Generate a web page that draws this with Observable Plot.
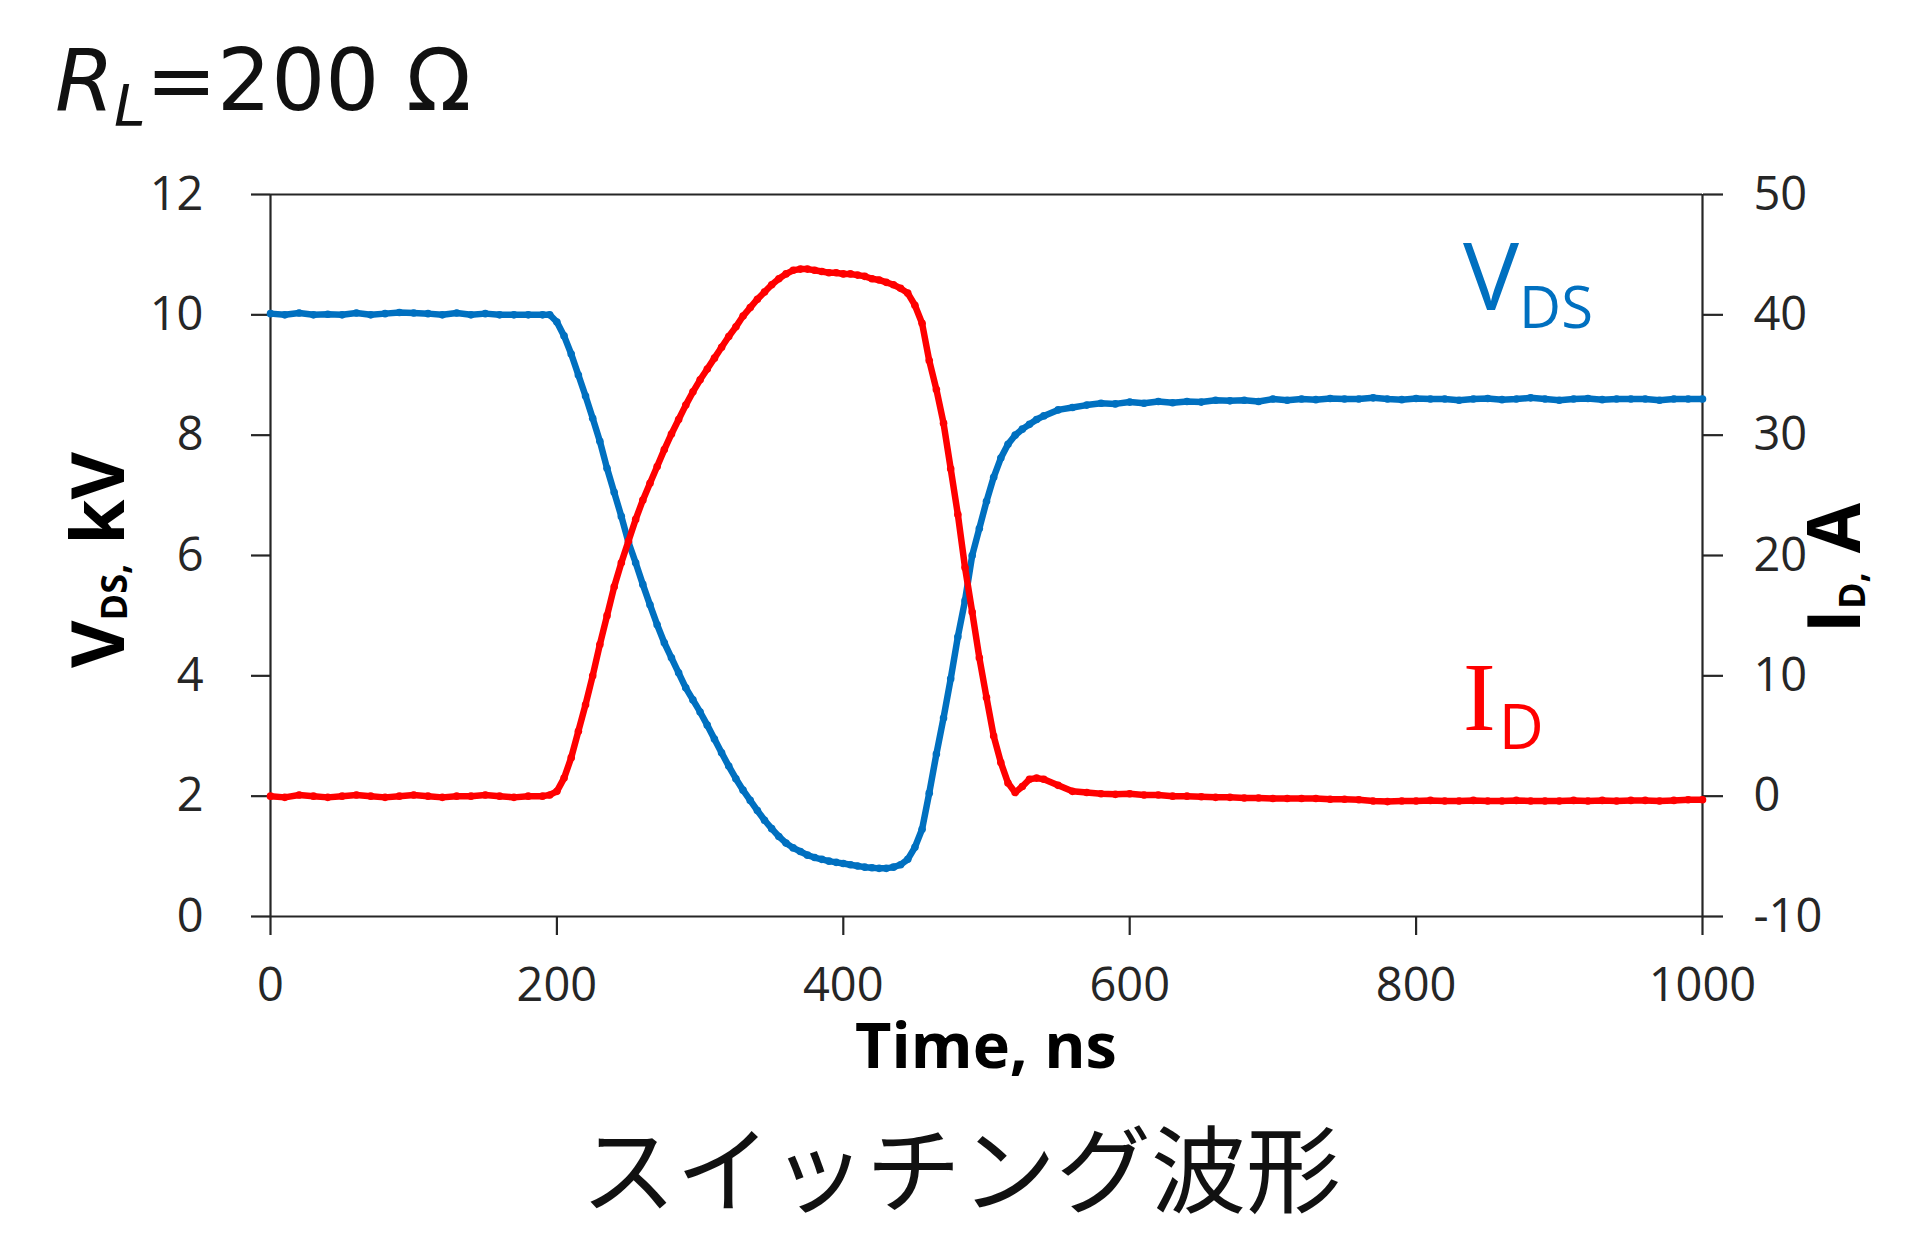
<!DOCTYPE html>
<html>
<head>
<meta charset="utf-8">
<script src="https://cdn.jsdelivr.net/npm/d3@7"></script>
<script src="https://cdn.jsdelivr.net/npm/@observablehq/plot@0.6"></script>
<style>
  html, body { margin: 0; padding: 0; background: #fff; }
  #chart { width: 1920px; height: 1234px; }
</style>
</head>
<body>
<div id="chart"></div>
<script>
// ---- Data ----
const time = [
  0,10,20,30,40,50,60,70,80,90,100,110,120,130,140,150,160,170,180,190,
  195,200,205,210,215,220,225,230,235,240,245,250,255,260,265,270,275,280,285,290,
  295,300,305,310,315,320,325,330,335,340,345,350,355,360,365,370,375,380,385,390,
  395,400,405,410,415,420,425,430,435,440,445,450,455,460,465,470,475,480,485,490,
  495,500,505,510,515,520,525,530,535,540,
  550,560,570,580,590,600,610,620,630,640,650,660,670,680,690,700,710,720,730,740,
  750,760,770,780,790,800,810,820,830,840,850,860,870,880,890,900,910,920,930,940,
  950,960,970,980,990,1000
];
// V_DS in kV (left axis)
const vds = [
  10.02,10.0,10.03,10.0,10.01,10.0,10.03,10.0,10.02,10.04,10.03,10.02,10.0,10.03,10.0,10.02,10.0,10.0,10.0,10.0,
  10.0,9.88,9.65,9.35,9.0,8.65,8.28,7.9,7.45,7.05,6.65,6.22,5.88,5.52,5.18,4.85,4.55,4.3,4.05,3.8,
  3.6,3.4,3.18,2.95,2.72,2.5,2.29,2.1,1.93,1.76,1.6,1.46,1.33,1.22,1.14,1.08,1.02,0.98,0.95,0.92,
  0.9,0.88,0.86,0.84,0.82,0.81,0.8,0.8,0.82,0.86,0.95,1.15,1.45,2.05,2.7,3.3,3.95,4.65,5.25,6.0,
  6.45,6.9,7.3,7.62,7.85,8.0,8.1,8.18,8.26,8.32,
  8.42,8.46,8.5,8.53,8.52,8.55,8.53,8.56,8.54,8.56,8.55,8.58,8.57,8.58,8.56,8.6,8.58,8.6,8.59,8.61,
  8.6,8.6,8.62,8.6,8.59,8.61,8.6,8.6,8.58,8.6,8.61,8.59,8.6,8.62,8.6,8.58,8.6,8.61,8.59,8.6,
  8.6,8.6,8.58,8.6,8.6,8.6
];
// I_D in A (right axis)
const idA = [
  0.0,-0.1,0.1,0.0,-0.1,0.0,0.1,0.0,-0.1,0.0,0.1,0.0,-0.1,0.0,0.0,0.1,0.0,-0.1,0.0,0.0,
  0.1,0.4,1.5,3.2,5.4,7.6,10.0,12.6,15.0,17.4,19.4,21.2,23.0,24.6,26.0,27.4,28.8,30.1,31.3,32.5,
  33.6,34.6,35.5,36.4,37.3,38.2,39.0,39.9,40.6,41.3,41.9,42.5,43.0,43.4,43.7,43.8,43.8,43.7,43.6,43.5,
  43.5,43.4,43.4,43.3,43.2,43.0,42.9,42.7,42.5,42.2,41.8,40.8,39.3,36.2,33.8,31.0,27.2,23.4,19.0,15.3,
  11.5,8.2,5.0,2.8,1.1,0.3,0.8,1.4,1.5,1.4,
  0.9,0.4,0.3,0.2,0.15,0.2,0.1,0.1,0.0,0.0,-0.05,-0.1,-0.1,-0.15,-0.15,-0.2,-0.2,-0.2,-0.2,-0.25,
  -0.25,-0.3,-0.4,-0.45,-0.4,-0.4,-0.35,-0.4,-0.4,-0.35,-0.4,-0.4,-0.35,-0.4,-0.4,-0.4,-0.35,-0.4,-0.35,-0.4,
  -0.35,-0.35,-0.4,-0.35,-0.3,-0.3
];
const xTicks = [0, 200, 400, 600, 800, 1000];
const vTicks = [0, 2, 4, 6, 8, 10, 12];
const iTicks = [-10, 0, 10, 20, 30, 40, 50];

// right axis relation (I axis -10..50 maps onto V axis 0..12)
const vDom = [0, 12], iDom = [-10, 50];
const toV = i => vDom[0] + (i - iDom[0]) * (vDom[1] - vDom[0]) / (iDom[1] - iDom[0]);
const toI = v => iDom[0] + (v - vDom[0]) * (iDom[1] - iDom[0]) / (vDom[1] - vDom[0]);

const rows = time.map((t, k) => ({t, v: vds[k], iv: toV(idA[k])}));

const BLUE = "#0070C0", RED = "#FF0000", INK = "#262626";

const plot = Plot.plot({
  width: 1920,
  height: 1234,
  marginLeft: 270,
  marginRight: 218,
  marginTop: 194,
  marginBottom: 318,
  style: {fontFamily: "'Open Sans', sans-serif", fontSize: "47px", color: INK, background: "#fff", overflow: "visible"},
  x: {domain: [0, 1000]},
  y: {domain: vDom},
  marks: [
    Plot.ruleY(vDom, {stroke: INK, strokeWidth: 2.2}),
    Plot.ruleX([0, 1000], {stroke: INK, strokeWidth: 2.2}),
    Plot.axisY(vTicks, {anchor: "left", tickSize: 19, tickPadding: 48, strokeWidth: 2.2, label: null, tickFormat: d => String(d)}),
    Plot.axisY(iTicks.map(toV), {anchor: "right", tickSize: 20, tickPadding: 31, strokeWidth: 2.2, label: null, tickFormat: d => String(Math.round(toI(d)))}),
    Plot.axisX(xTicks, {anchor: "bottom", tickSize: 19, tickPadding: 32, strokeWidth: 2.2, label: null, tickFormat: d => String(d)}),
    Plot.line(rows, {x: "t", y: "v", stroke: BLUE, strokeWidth: 6.5, strokeLinejoin: "round"}),
    Plot.dot(rows, {x: "t", y: "v", r: 3.8, fill: BLUE}),
    Plot.line(rows, {x: "t", y: "iv", stroke: RED, strokeWidth: 6.5, strokeLinejoin: "round"}),
    Plot.dot(rows, {x: "t", y: "iv", r: 3.8, fill: RED})
  ]
});

document.getElementById("chart").appendChild(plot);

// ---- Text annotations ----
const svg = d3.select(plot);
const g = svg.append("g").attr("text-anchor", "start");

// Title R_L=200 Ω
const title = g.append("text").attr("x", 55).attr("y", 110).attr("text-anchor", "start")
  .attr("font-family", "'DejaVu Sans', sans-serif").attr("font-size", 85).attr("fill", "#111");
title.append("tspan").attr("font-style", "italic").text("R");
title.append("tspan").attr("font-style", "italic").attr("font-size", 57).attr("dy", 16).text("L");
title.append("tspan").attr("dy", -16).text("=200 Ω");

// Left axis label V_DS, kV
const yl = g.append("text").attr("transform", "translate(124,560) rotate(-90)")
  .attr("text-anchor", "middle").attr("font-family", "'Open Sans', sans-serif")
  .attr("font-weight", 700).attr("font-size", 73).attr("fill", "#000");
yl.append("tspan").text("V");
yl.append("tspan").attr("font-size", 36).attr("dy", 3).text("DS,");
yl.append("tspan").attr("dy", -3).text(" kV");

// Right axis label I_D, A
const yr = g.append("text").attr("transform", "translate(1860,568) rotate(-90)")
  .attr("text-anchor", "middle").attr("font-family", "'Open Sans', sans-serif")
  .attr("font-weight", 700).attr("font-size", 73).attr("fill", "#000");
yr.append("tspan").text("I");
yr.append("tspan").attr("font-size", 36).attr("dy", 5).text("D,");
yr.append("tspan").attr("dy", -5).text(" A");

// X axis label
g.append("text").attr("x", 986).attr("y", 1068).attr("text-anchor", "middle")
  .attr("font-family", "'Open Sans', sans-serif").attr("font-weight", 700)
  .attr("font-size", 63).attr("fill", "#000").text("Time, ns");

// Series labels
const lv = g.append("text").attr("x", 1463).attr("y", 310).attr("text-anchor", "start").attr("fill", BLUE)
  .attr("font-family", "'Open Sans', sans-serif").attr("font-size", 94);
lv.append("tspan").text("V");
lv.append("tspan").attr("font-size", 58).attr("dy", 18).text("DS");

const li = g.append("text").attr("x", 1463).attr("y", 730).attr("text-anchor", "start").attr("fill", RED)
  .attr("font-family", "'Liberation Serif', serif").attr("font-size", 98);
li.append("tspan").text("I");
li.append("tspan").attr("font-family", "'Open Sans', sans-serif").attr("font-size", 62).attr("dx", 3).attr("dy", 19).text("D");

// Caption
g.append("text").attr("x", 961).attr("y", 1206).attr("text-anchor", "middle")
  .attr("font-family", "'Noto Sans CJK JP', sans-serif").attr("font-size", 95)
  .attr("fill", "#111").text("スイッチング波形");
</script>
</body>
</html>
